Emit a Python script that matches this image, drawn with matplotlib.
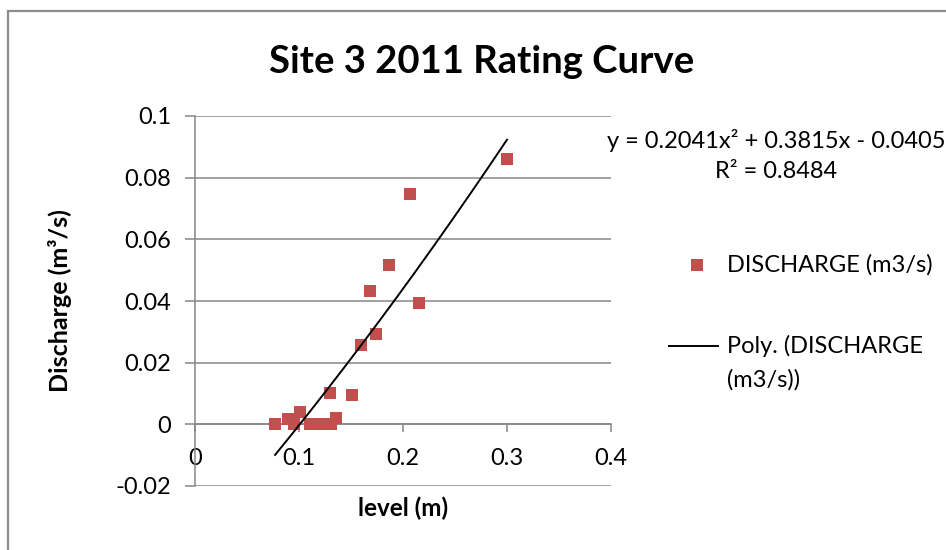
import matplotlib
matplotlib.use("Agg")
import matplotlib.pyplot as plt
import numpy as np
from matplotlib.patches import Rectangle
from matplotlib.lines import Line2D

plt.rcParams['font.family'] = ['Lato', 'DejaVu Sans']

# Data
level = [0.077, 0.089, 0.095, 0.101, 0.111, 0.121, 0.131, 0.136, 0.130,
         0.151, 0.160, 0.174, 0.168, 0.187, 0.215, 0.207, 0.300]
discharge = [0.0, 0.0017, 0.0, 0.0040, 0.0, 0.0, 0.0, 0.0022, 0.0103,
             0.0096, 0.0256, 0.0292, 0.0433, 0.0516, 0.0394, 0.0748, 0.0862]
# Polynomial trendline coefficients (as displayed)
coef = [0.2041, 0.3815, -0.0405]
r2 = 0.8484

xticks = [0, 0.1, 0.2, 0.3, 0.4]
xticklabels = ['0', '0.1', '0.2', '0.3', '0.4']
yticks = [-0.02, 0, 0.02, 0.04, 0.06, 0.08, 0.1]
yticklabels = ['-0.02', '0', '0.02', '0.04', '0.06', '0.08', '0.1']

W, H = 946, 550
fig = plt.figure(figsize=(W / 100, H / 100), dpi=100)
L, R, T, B = 195, 611, 116, 486
ax = fig.add_axes([L / W, 1 - B / H, (R - L) / W, (B - T) / H])

grid_c = '#868686'
red = '#C0504D'
FS = 17

ax.set_xlim(0, 0.4)
ax.set_ylim(-0.02, 0.1)
ax.set_yticks(yticks)
ax.set_yticklabels(yticklabels)
ax.set_xticks(xticks)
ax.set_xticklabels(xticklabels)
ax.yaxis.grid(True, color=grid_c, linewidth=1.1)
ax.set_axisbelow(True)

for s in ['top', 'right']:
    ax.spines[s].set_visible(False)
ax.spines['bottom'].set_position(('data', 0))
ax.spines['bottom'].set_color(grid_c)
ax.spines['left'].set_color(grid_c)
ax.spines['bottom'].set_linewidth(1.1)
ax.spines['left'].set_linewidth(1.1)
ax.tick_params(axis='x', direction='out', length=6, width=1.1, color=grid_c,
               pad=11, labelsize=FS)
ax.tick_params(axis='y', direction='out', length=7, width=1.1, color=grid_c,
               pad=10, labelsize=FS)

# Scatter
ax.plot(level, discharge, linestyle='none', marker='s', markersize=8.6,
        color=red, markeredgewidth=0, zorder=3, clip_on=False)

# Trendline
xs = np.linspace(min(level), max(level), 200)
ys = np.polyval(coef, xs)
ax.plot(xs, ys, color='black', linewidth=1.4, zorder=4, clip_on=False)

# Titles and labels
fig.text(482 / W, 1 - 62 / H, 'Site 3 2011 Rating Curve', ha='center', va='center',
         fontsize=27.5, fontweight='bold')
fig.text(60 / W, 1 - 301 / H, 'Discharge (m\u00b3/s)', ha='center', va='center',
         rotation=90, fontsize=18, fontweight='bold')
fig.text(403 / W, 1 - 508 / H, 'level (m)', ha='center', va='center',
         fontsize=17.5, fontweight='bold')

# Trendline equation
fig.text(776 / W, 1 - 141 / H,
         'y = %.4fx\u00b2 + %.4fx - %.4f' % (coef[0], coef[1], -coef[2]),
         ha='center', va='center', fontsize=FS)
fig.text(776 / W, 1 - 171 / H, 'R\u00b2 = %.4f' % r2, ha='center', va='center',
         fontsize=FS)

# Legend (drawn manually to match Excel layout)
tr = fig.transFigure
fig.add_artist(Line2D([697 / W], [1 - 265 / H], transform=tr, linestyle='none',
                      marker='s', markersize=8.6, color=red, markeredgewidth=0))
fig.text(727 / W, 1 - 265 / H, 'DISCHARGE (m3/s)', ha='left', va='center',
         fontsize=FS)
fig.add_artist(Line2D([669 / W, 718 / W], [1 - 346 / H, 1 - 346 / H], transform=tr,
                      color='black', linewidth=1.4))
fig.text(727 / W, 1 - 346 / H, 'Poly. (DISCHARGE', ha='left', va='center',
         fontsize=FS)
fig.text(727 / W, 1 - 380 / H, '(m3/s))', ha='left', va='center', fontsize=FS)

# Chart border (left and top visible)
fig.add_artist(Rectangle((7.5 / W, -0.1), 1.2, 1 - 11 / H + 0.1,
                         transform=tr, fill=False,
                         edgecolor='#8c8c8c', linewidth=1.6))

fig.savefig('out.png', dpi=100)
